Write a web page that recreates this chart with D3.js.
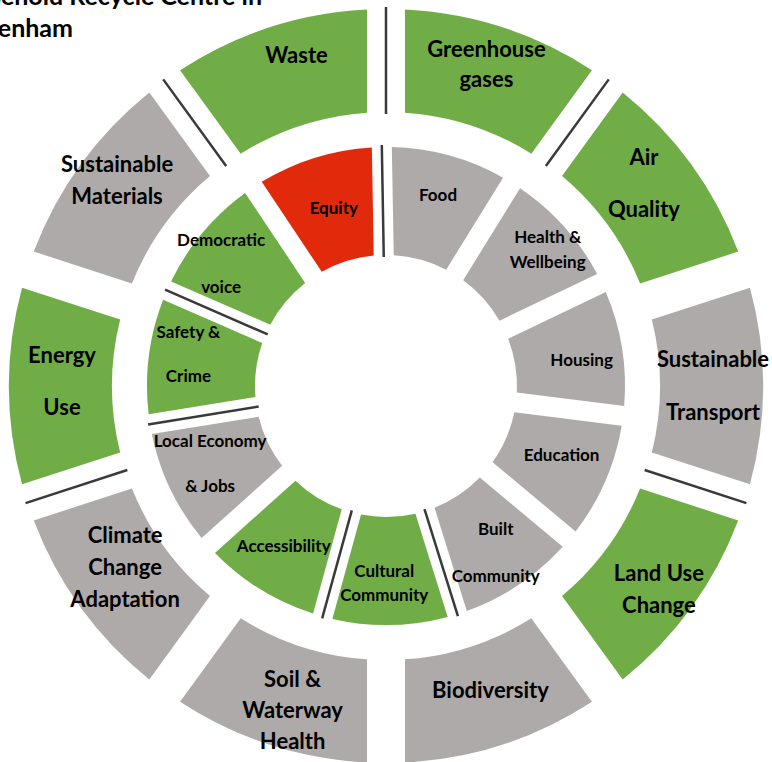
<!DOCTYPE html>
<html>
<head>
<meta charset="utf-8">
<script src="https://cdn.jsdelivr.net/npm/d3@7"></script>
<style>
  body { margin: 0; background: #fff; }
  text { font-family: Lato, "Open Sans", sans-serif; font-weight: bold; fill: #000; }
</style>
</head>
<body>
<div id="doughnut"></div>
<script>

// outer ring - environmental ceiling, clockwise from 12 o'clock
let outerCategories = ["Greenhouse\ngases", "Air\nQuality", "Sustainable\nTransport", "Land Use\nChange",
    "Biodiversity", "Soil &\nWaterway\nHealth", "Climate\nChange\nAdaptation", "Energy\nUse",
    "Sustainable\nMaterials", "Waste"];
let outerStatus = ["green", "green", "grey", "green", "grey", "grey", "grey", "green", "grey", "green"];
let outerWeights = [1, 1, 1, 1, 1, 1, 1, 1, 1, 1];
let outerDivider = [1, 1, 0, 1, 0, 0, 0, 1, 0, 1]; // dark line on the start edge

// inner ring - social foundation, clockwise from 12 o'clock
let innerCategories = ["Food", "Health &\nWellbeing", "Housing", "Education", "Built\nCommunity",
    "Cultural\nCommunity", "Accessibility", "Local Economy\n& Jobs", "Safety &\nCrime",
    "Democratic\nvoice", "Equity"];
let innerStatus = ["grey", "grey", "grey", "grey", "grey", "green", "green", "grey", "green", "green", "red"];
let innerWeights = [1, 1, 1, 1, 1, 1, 1, 1, 1, 1, 1];
let innerDivider = [1, 0, 0, 0, 0, 1, 1, 0, 1, 1, 0];

let titleLines = ["Household Recycle Centre in", "Cheltenham"];

const width = 772, height = 762;
const cx = 386, cy = 386;

// label nudges (px) and line spacing, layout only
const nudge = {
    "Greenhouse\ngases": [0, -13, 30], "Air\nQuality": [-5, -12, 52], "Sustainable\nTransport": [2, 0, 53],
    "Land Use\nChange": [10, 12, 32], "Biodiversity": [4, -5, 0], "Soil &\nWaterway\nHealth": [7, 15, 31],
    "Climate\nChange\nAdaptation": [2, -10, 32], "Energy\nUse": [1, -5, 52], "Sustainable\nMaterials": [-6, -15, 32],
    "Waste": [11, -22, 0],
    "Food": [3, -13, 0], "Health &\nWellbeing": [24, -13, 25], "Housing": [13, 4, 0], "Education": [6, -5, 0],
    "Built\nCommunity": [7, 13, 47], "Cultural\nCommunity": [-5, 12, 24], "Accessibility": [-5, 3, 0],
    "Local Economy\n& Jobs": [-9, -2, 45], "Safety &\nCrime": [-14, -9, 44], "Democratic\nvoice": [-23, -4, 47],
    "Equity": [3, -1, 0]
};

let color = d3.scaleOrdinal()
    .domain(["green", "grey", "red"])
    .range(["#70ad47", "#aeaaaa", "#e1290b"]);

let svg = d3.select("#doughnut")
    .append("svg")
        .attr("width", width)
        .attr("height", height)
        .attr("viewBox", [0, 0, width, height]);

let g = svg.append("g").attr("transform", `translate(${cx}, ${cy})`);

function drawRing(cats, status, weights, divider, opts) {
    let data = cats.map((c, i) => ({ name: c, status: status[i], w: weights[i], line: divider[i] }));

    let pie = d3.pie()
        .sort(null)
        .value(d => d.w)
        .startAngle(opts.start)
        .endAngle(opts.start + 2 * Math.PI);

    let arc = d3.arc()
        .innerRadius(opts.r0)
        .outerRadius(opts.r1)
        .padAngle(opts.gap / opts.padR)
        .padRadius(opts.padR);

    let labelArc = d3.arc()
        .innerRadius(opts.rl)
        .outerRadius(opts.rl);

    let arcs = pie(data);
    let ring = g.append("g");

    ring.selectAll("path")
        .data(arcs)
        .enter()
        .append("path")
            .attr("d", arc)
            .attr("fill", d => color(d.data.status));

    ring.selectAll("line")
        .data(arcs.filter(d => d.data.line))
        .enter()
        .append("line")
            .attr("x1", d => d3.pointRadial(d.startAngle, opts.r0 - 2)[0])
            .attr("y1", d => d3.pointRadial(d.startAngle, opts.r0 - 2)[1])
            .attr("x2", d => d3.pointRadial(d.startAngle, opts.r1 + 2)[0])
            .attr("y2", d => d3.pointRadial(d.startAngle, opts.r1 + 2)[1])
            .attr("stroke", "#3a3a3a")
            .attr("stroke-width", 2.5);

    let labels = ring.selectAll("text.lbl")
        .data(arcs)
        .enter()
        .append("text")
            .attr("class", "lbl")
            .attr("text-anchor", "middle")
            .attr("font-size", opts.fs)
            .attr("transform", d => {
                let c = labelArc.centroid(d);
                let n = nudge[d.data.name] || [0, 0, 0];
                return `translate(${c[0] + n[0]}, ${c[1] + n[1]})`;
            });

    labels.each(function(d) {
        let lines = d.data.name.split("\n");
        let lh = (nudge[d.data.name] || [0, 0, 0])[2] || opts.fs * 1.3;
        d3.select(this).selectAll("tspan")
            .data(lines)
            .enter()
            .append("tspan")
                .attr("x", 0)
                .attr("y", (t, i) => (i - (lines.length - 1) / 2) * lh + opts.fs * 0.35)
                .text(t => t);
    });
}

drawRing(outerCategories, outerStatus, outerWeights, outerDivider,
    { start: 0, r0: 274, r1: 377, rl: 325, gap: 38, padR: 380, fs: 22 });

drawRing(innerCategories, innerStatus, innerWeights, innerDivider,
    { start: -Math.PI / 180, r0: 131, r1: 239, rl: 185, gap: 20, padR: 200, fs: 17 });

// title, cut by the top left corner like the source image
svg.append("g")
    .selectAll("text")
    .data(titleLines)
    .enter()
    .append("text")
        .attr("x", (d, i) => i === 0 ? 262 : 73)
        .attr("y", (d, i) => 5 + i * 32)
        .attr("text-anchor", "end")
        .attr("font-size", 25)
        .text(d => d);

</script>
</body>
</html>
